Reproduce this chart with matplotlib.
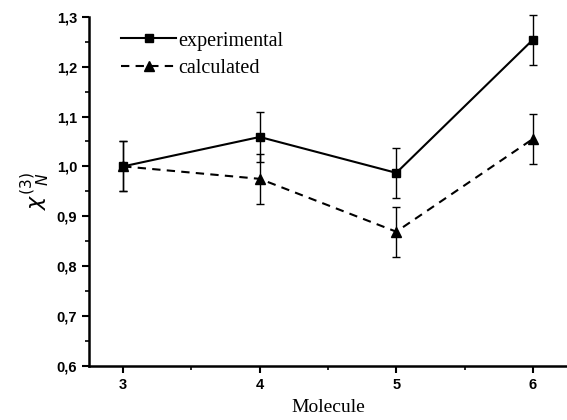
import matplotlib
matplotlib.use("Agg")
import matplotlib.pyplot as plt
from matplotlib.lines import Line2D
from matplotlib.ticker import MultipleLocator, FuncFormatter

molecules = [3, 4, 5, 6]
experimental = [1.000, 1.059, 0.987, 1.254]
experimental_err = [0.05, 0.05, 0.05, 0.05]
calculated = [1.000, 0.975, 0.869, 1.055]
calculated_err = [0.05, 0.05, 0.05, 0.05]

fig = plt.figure(figsize=(5.67, 4.2), dpi=100)
ax = fig.add_axes([0.157, 0.129, 0.843, 0.831])

dash = (0, (4, 3))
for y, err, ls, mk, ms in [(experimental, experimental_err, "-", "s", 6),
                           (calculated, calculated_err, dash, "^", 7)]:
    c = ax.errorbar(molecules, y, yerr=err, color="black", linestyle=ls,
                    linewidth=1.5, marker=mk, markersize=ms,
                    elinewidth=1.0, capsize=3, capthick=1.0)
    for art in c.get_children():
        art.set_clip_on(False)

ax.set_xlim(2.75, 6.25)
ax.set_ylim(0.6, 1.3)
ax.spines["top"].set_visible(False)
ax.spines["right"].set_visible(False)
ax.spines["left"].set_linewidth(1.8)
ax.spines["bottom"].set_linewidth(1.8)

ax.xaxis.set_major_locator(MultipleLocator(1))
ax.xaxis.set_minor_locator(MultipleLocator(0.5))
ax.yaxis.set_major_locator(MultipleLocator(0.1))
ax.yaxis.set_minor_locator(MultipleLocator(0.05))
ax.yaxis.set_major_formatter(FuncFormatter(lambda v, p: f"{v:.1f}".replace(".", ",")))
ax.tick_params(which="major", direction="out", length=5, width=1.5, labelsize=10.5)
ax.tick_params(which="minor", direction="out", length=3, width=1.2)
for lab in ax.get_xticklabels() + ax.get_yticklabels():
    lab.set_fontfamily("Liberation Sans")
    lab.set_fontweight("bold")

ax.set_xlabel("Molecule", fontfamily="Liberation Serif", fontsize=14, labelpad=5)
ax.set_ylabel(r"$\chi^{(3)}_{\ \ N}$", fontsize=16, labelpad=4)

handles = [Line2D([], [], color="black", linestyle="-", linewidth=1.5, marker="s", markersize=6),
           Line2D([], [], color="black", linestyle=dash, linewidth=1.5, marker="^", markersize=7)]
leg = ax.legend(handles, ["experimental", "calculated"], loc="upper left",
                bbox_to_anchor=(0.03, 1.01), frameon=False,
                prop={"family": "Liberation Serif", "size": 14.5},
                handlelength=2.7, handletextpad=0.1, labelspacing=0.4)

fig.savefig("out.png", dpi=100)
